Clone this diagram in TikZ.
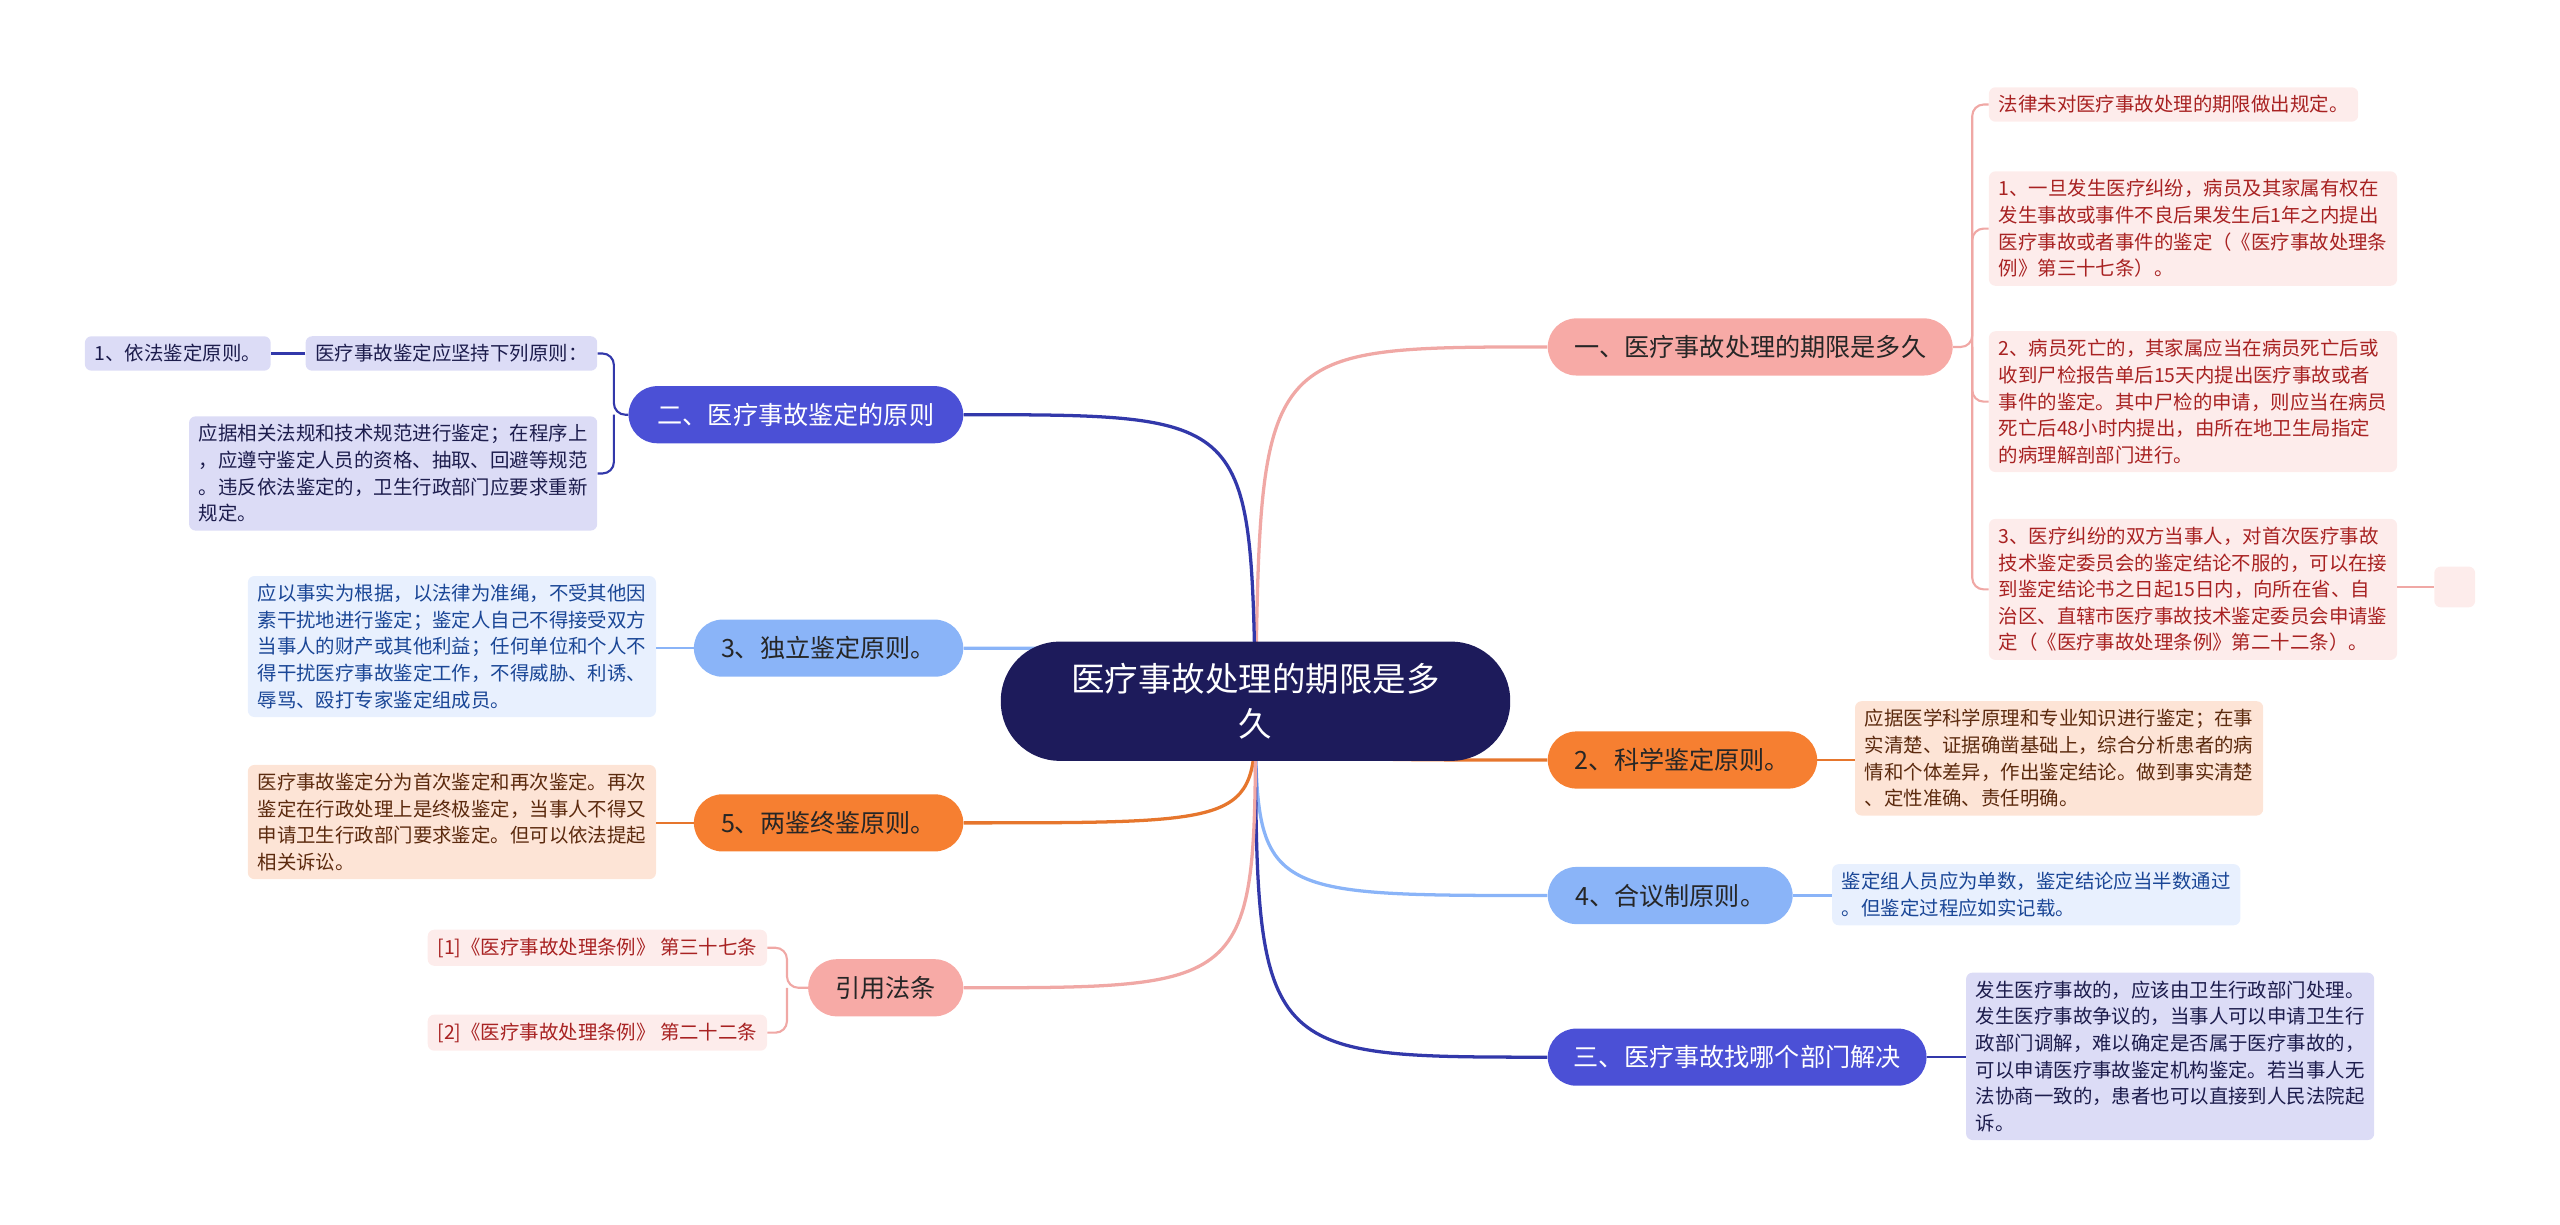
\documentclass[tikz,border=0pt]{standalone}
\usepackage{fontspec}
\setmainfont{Noto Sans CJK SC}
\usepackage{tikz}
\usetikzlibrary{positioning, backgrounds}
\definecolor{cRoot}{RGB}{29,27,91}
\definecolor{cPink}{RGB}{247,170,166}
\definecolor{cPinkLeaf}{RGB}{253,236,235}
\definecolor{cPinkText}{RGB}{168,34,34}
\definecolor{cPinkLine}{RGB}{240,168,165}
\definecolor{cOrange}{RGB}{246,127,49}
\definecolor{cOrangeLeaf}{RGB}{253,228,214}
\definecolor{cOrangeText}{RGB}{92,42,14}
\definecolor{cOrangeLine}{RGB}{230,118,45}
\definecolor{cSky}{RGB}{138,180,248}
\definecolor{cSkyLeaf}{RGB}{232,240,254}
\definecolor{cSkyText}{RGB}{26,70,150}
\definecolor{cViolet}{RGB}{75,80,214}
\definecolor{cVioletLeaf}{RGB}{220,220,246}
\definecolor{cVioletText}{RGB}{28,28,76}
\definecolor{cVioletLine}{RGB}{50,56,170}
\tikzset{
	root/.style  ={rectangle, rounded corners=36pt, minimum width=312pt, minimum height=73pt, align=center, fill=cRoot, text=white, font=\fontsize{20.5}{28}\selectfont},
	topic/.style ={rectangle, rounded corners=17.5pt, minimum height=35pt, align=center, inner sep=0pt, text=black!85, font=\fontsize{15.4}{18}\selectfont},
	leaf/.style  ={rectangle, rounded corners=4pt, inner xsep=6pt, inner ysep=5pt, align=left, font=\fontsize{11.9}{16.3}\selectfont},
	pinkleaf/.style  ={leaf, fill=cPinkLeaf, text=cPinkText},
	orangeleaf/.style={leaf, fill=cOrangeLeaf, text=cOrangeText},
	skyleaf/.style   ={leaf, fill=cSkyLeaf, text=cSkyText},
	violetleaf/.style={leaf, fill=cVioletLeaf, text=cVioletText},
	% connectors
	branch/.style={line width=2pt},
	twig/.style  ={line width=1.3pt, rounded corners=7pt},
}

\begin{document}
\begin{tikzpicture}[x=1pt, y=-1pt]
	\useasboundingbox (0,0) rectangle (1568,750);
	% centre
	\node[root] (root) at (769,429.5) {医疗事故处理的期限是多\\久};
	% right topics
	\node[topic, fill=cPink, minimum width=248pt] (t1) at (1072,212.5) {一、医疗事故处理的期限是多久};
	\node[topic, fill=cOrange, minimum width=165pt] (s2) at (1030.5,465.5) {2、科学鉴定原则。};
	\node[topic, fill=cSky, minimum width=150pt] (s4) at (1023,548.5) {4、合议制原则。};
	\node[topic, fill=cViolet, text=white, minimum width=232pt] (t3) at (1064,647.5) {三、医疗事故找哪个部门解决};
	% left topics
	\node[topic, fill=cViolet, text=white, minimum width=205pt] (t2) at (487.5,254) {二、医疗事故鉴定的原则};
	\node[topic, fill=cSky, minimum width=165pt] (s3) at (507.5,397) {3、独立鉴定原则。};
	\node[topic, fill=cOrange, minimum width=165pt] (s5) at (507.5,504) {5、两鉴终鉴原则。};
	\node[topic, fill=cPink, minimum width=95pt] (ref) at (542.5,605) {引用法条};

	% leaves of t1
	\node[pinkleaf, anchor=west] (p0) at (1218,64) {法律未对医疗事故处理的期限做出规定。};
	\node[pinkleaf, anchor=west] (p1) at (1218,140) {1、一旦发生医疗纠纷，病员及其家属有权在\\发生事故或事件不良后果发生后1年之内提出\\医疗事故或者事件的鉴定（《医疗事故处理条\\例》第三十七条）。};
	\node[pinkleaf, anchor=west] (p2) at (1218,246) {2、病员死亡的，其家属应当在病员死亡后或\\收到尸检报告单后15天内提出医疗事故或者\\事件的鉴定。其中尸检的申请，则应当在病员\\死亡后48小时内提出，由所在地卫生局指定\\的病理解剖部门进行。};
	\node[pinkleaf, anchor=west] (p3) at (1218,361) {3、医疗纠纷的双方当事人，对首次医疗事故\\技术鉴定委员会的鉴定结论不服的，可以在接\\到鉴定结论书之日起15日内，向所在省、自\\治区、直辖市医疗事故技术鉴定委员会申请鉴\\定（《医疗事故处理条例》第二十二条）。};
	\node[pinkleaf, minimum size=25pt, inner sep=0pt] (p4) at (1503.5,359.5) {};
	% leaves of right side
	\node[orangeleaf, anchor=west] (b2) at (1136,464.5) {应据医学科学原理和专业知识进行鉴定；在事\\实清楚、证据确凿基础上，综合分析患者的病\\情和个体差异，作出鉴定结论。做到事实清楚\\、定性准确、责任明确。};
	\node[skyleaf, anchor=west] (b4) at (1122,548) {鉴定组人员应为单数，鉴定结论应当半数通过\\。但鉴定过程应如实记载。};
	\node[violetleaf, anchor=west] (c3) at (1204,647) {发生医疗事故的，应该由卫生行政部门处理。\\发生医疗事故争议的，当事人可以申请卫生行\\政部门调解，难以确定是否属于医疗事故的，\\可以申请医疗事故鉴定机构鉴定。若当事人无\\法协商一致的，患者也可以直接到人民法院起\\诉。};

	% leaves of left side
	\node[violetleaf, anchor=east] (d1) at (366,216.5) {医疗事故鉴定应坚持下列原则：};
	\node[violetleaf, anchor=east] (d0) at (166,216.5) {1、依法鉴定原则。};
	\node[violetleaf, anchor=east] (d2) at (366,290) {应据相关法规和技术规范进行鉴定；在程序上\\，应遵守鉴定人员的资格、抽取、回避等规范\\。违反依法鉴定的，卫生行政部门应要求重新\\规定。};
	\node[skyleaf, anchor=east] (e3) at (402,396) {应以事实为根据，以法律为准绳，不受其他因\\素干扰地进行鉴定；鉴定人自己不得接受双方\\当事人的财产或其他利益；任何单位和个人不\\得干扰医疗事故鉴定工作，不得威胁、利诱、\\辱骂、殴打专家鉴定组成员。};
	\node[orangeleaf, anchor=east] (e5) at (402,503.5) {医疗事故鉴定分为首次鉴定和再次鉴定。再次\\鉴定在行政处理上是终极鉴定，当事人不得又\\申请卫生行政部门要求鉴定。但可以依法提起\\相关诉讼。};
	\node[pinkleaf, anchor=east] (r1) at (470,580.5) {[1]《医疗事故处理条例》 第三十七条};
	\node[pinkleaf, anchor=east] (r2) at (470,632.5) {[2]《医疗事故处理条例》 第二十二条};

	% forks
	\coordinate (f1) at (1208,212.5);
	\coordinate (f2) at (376,254);
	\coordinate (f8) at (482,605);

	\begin{scope}[on background layer]
		% root to topics
		\draw[branch, cPinkLine] (root.center) .. controls (772,212.5) .. (t1.west);
		\draw[branch, cOrangeLine] (root.center) .. controls (769,465.5) .. (s2.west);
		\draw[branch, cSky] (root.center) .. controls (769,548.5) .. (s4.west);
		\draw[branch, cVioletLine] (root.center) .. controls (769,647.5) .. (t3.west);
		\draw[branch, cVioletLine] (root.center) .. controls (766,254) .. (t2.east);
		\draw[branch, cSky] (root.center) .. controls (769,397) .. (s3.east);
		\draw[branch, cOrangeLine] (root.center) .. controls (769,504) .. (s5.east);
		\draw[branch, cPinkLine] (root.center) .. controls (769,605) .. (ref.east);
	\end{scope}

	% topics to leaves
	\draw[twig, cPinkLine] (t1.east) -- (f1) |- (p0.west);
	\draw[twig, cPinkLine] (f1) |- (p1.west);
	\draw[twig, cPinkLine] (f1) |- (p2.west);
	\draw[twig, cPinkLine] (f1) |- (p3.west);
	\draw[twig, cPinkLine] (p3.east |- p4) -- (p4.west);
	\draw[twig, cOrangeLine] (s2.east) -- (b2.west |- s2);
	\draw[twig, cSky] (s4.east) -- (b4.west |- s4);
	\draw[twig, cVioletLine] (t3.east) -- (c3.west |- t3);
	\draw[twig, cVioletLine] (t2.west) -- (f2) |- (d1.east);
	\draw[twig, cVioletLine] (f2) |- (d2.east);
	\draw[twig, cVioletLine] (d1.west) -- (d0.east);
	\draw[twig, cSky] (s3.west) -- (e3.east |- s3);
	\draw[twig, cOrangeLine] (s5.west) -- (e5.east |- s5);
	\draw[twig, cPinkLine] (ref.west) -- (f8) |- (r1.east);
	\draw[twig, cPinkLine] (f8) |- (r2.east);
\end{tikzpicture}
\end{document}
